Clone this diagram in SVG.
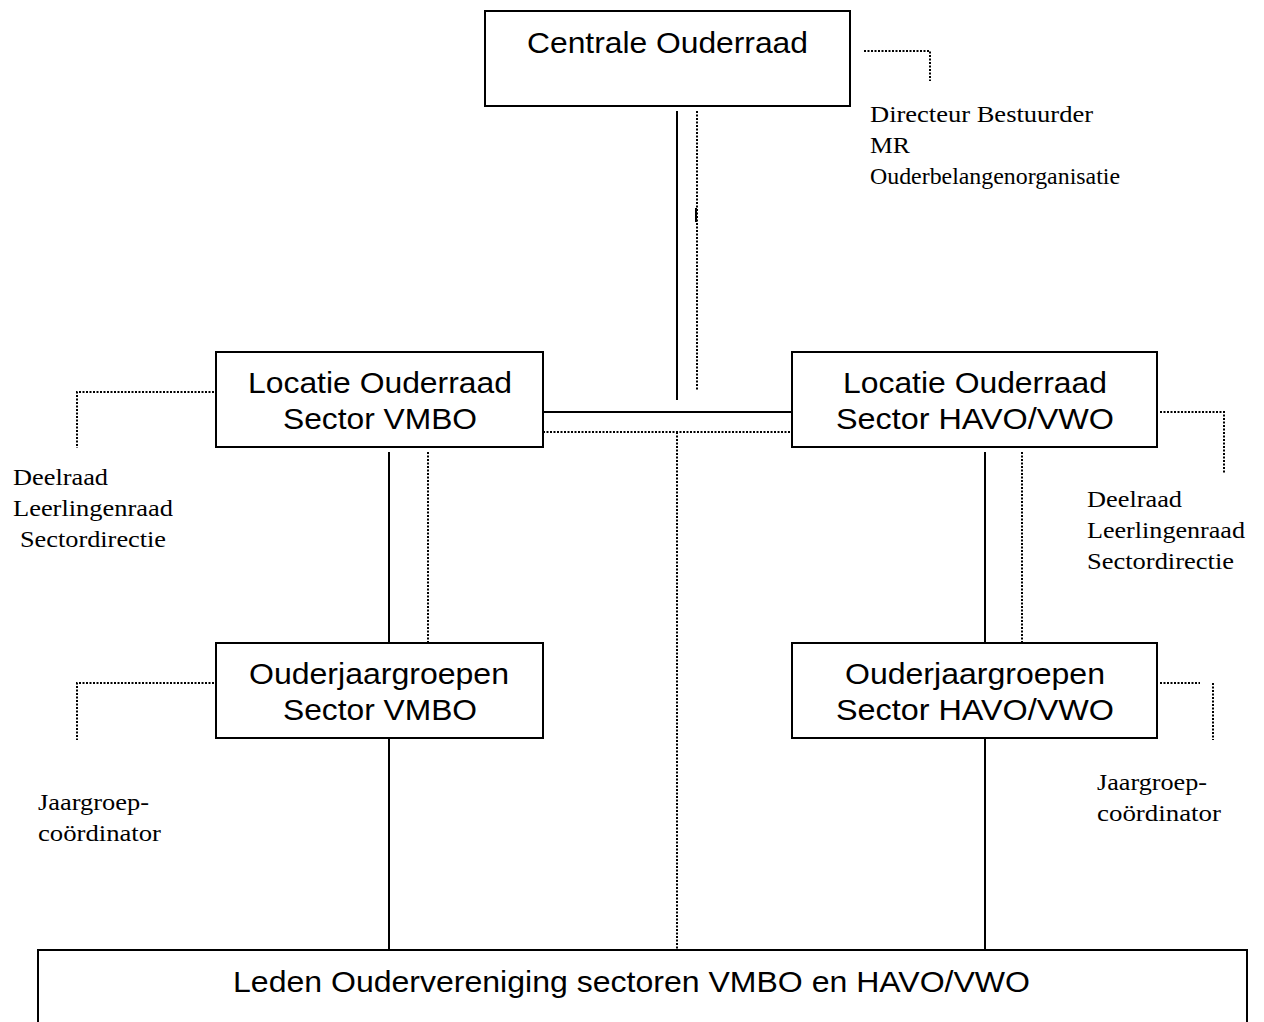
<svg xmlns="http://www.w3.org/2000/svg" width="1264" height="1022" viewBox="0 0 1264 1022">
<style>
.box{fill:#fff;stroke:#000;stroke-width:2}
.t{font-family:"Liberation Sans",Arial,sans-serif;font-size:29px;fill:#000;text-anchor:middle}
.s{font-family:"Liberation Serif","Times New Roman",serif;font-size:24px;fill:#000}
.solid{stroke:#000;stroke-width:2;fill:none}
.dot{stroke:#000;stroke-width:2;stroke-dasharray:2 1.5;fill:none}
</style>
<rect width="1264" height="1022" fill="#fff"/>
<g id="connectors">
<line class="solid" x1="677" y1="111" x2="677" y2="400"/>
<line class="dot" x1="697" y1="111" x2="697" y2="390"/>
<line class="solid" x1="696" y1="208" x2="696" y2="222"/>
<line class="solid" x1="543" y1="412" x2="792" y2="412"/>
<line class="dot" x1="543" y1="432" x2="792" y2="432"/>
<line class="dot" x1="677" y1="432" x2="677" y2="950"/>
<polyline class="dot" points="864,51 930,51 930,81"/>
<polyline class="dot" points="214,392 77,392 77,448"/>
<polyline class="dot" points="1160,412 1224,412 1224,473"/>
<polyline class="dot" points="214,683 77,683 77,740"/>
<polyline class="dot" points="1160,683 1200,683"/>
<line class="dot" x1="1213" y1="683" x2="1213" y2="740"/>
<line class="solid" x1="389" y1="452" x2="389" y2="643"/>
<line class="dot" x1="428" y1="452" x2="428" y2="642"/>
<line class="solid" x1="985" y1="452" x2="985" y2="643"/>
<line class="dot" x1="1022" y1="452" x2="1022" y2="642"/>
<line class="solid" x1="389" y1="738" x2="389" y2="950"/>
<line class="solid" x1="985" y1="738" x2="985" y2="950"/>
</g>
<g id="centrale">
<rect class="box" x="485" y="11" width="365" height="95"/>
<text class="t" x="667.5" y="53" textLength="281" lengthAdjust="spacingAndGlyphs">Centrale Ouderraad</text>
</g>
<g id="centrale-note">
<text class="s" x="870" y="122" textLength="223" lengthAdjust="spacingAndGlyphs">Directeur Bestuurder</text>
<text class="s" x="870" y="153" textLength="40" lengthAdjust="spacingAndGlyphs">MR</text>
<text class="s" x="870" y="184" textLength="250" lengthAdjust="spacingAndGlyphs">Ouderbelangenorganisatie</text>
</g>
<g id="locatie-vmbo">
<rect class="box" x="216" y="352" width="327" height="95"/>
<text class="t" x="380" y="393" textLength="264" lengthAdjust="spacingAndGlyphs">Locatie Ouderraad</text>
<text class="t" x="380" y="429" textLength="194" lengthAdjust="spacingAndGlyphs">Sector VMBO</text>
</g>
<g id="locatie-havo">
<rect class="box" x="792" y="352" width="365" height="95"/>
<text class="t" x="975" y="393" textLength="264" lengthAdjust="spacingAndGlyphs">Locatie Ouderraad</text>
<text class="t" x="975" y="429" textLength="278" lengthAdjust="spacingAndGlyphs">Sector HAVO/VWO</text>
</g>
<g id="note-vmbo">
<text class="s" x="13" y="485" textLength="95" lengthAdjust="spacingAndGlyphs">Deelraad</text>
<text class="s" x="13" y="516" textLength="160" lengthAdjust="spacingAndGlyphs">Leerlingenraad</text>
<text class="s" x="20" y="547" textLength="146" lengthAdjust="spacingAndGlyphs">Sectordirectie</text>
</g>
<g id="note-havo">
<text class="s" x="1087" y="507" textLength="95" lengthAdjust="spacingAndGlyphs">Deelraad</text>
<text class="s" x="1087" y="538" textLength="158" lengthAdjust="spacingAndGlyphs">Leerlingenraad</text>
<text class="s" x="1087" y="569" textLength="147" lengthAdjust="spacingAndGlyphs">Sectordirectie</text>
</g>
<g id="jaar-vmbo">
<rect class="box" x="216" y="643" width="327" height="95"/>
<text class="t" x="379" y="684" textLength="260" lengthAdjust="spacingAndGlyphs">Ouderjaargroepen</text>
<text class="t" x="380" y="720" textLength="194" lengthAdjust="spacingAndGlyphs">Sector VMBO</text>
</g>
<g id="jaar-havo">
<rect class="box" x="792" y="643" width="365" height="95"/>
<text class="t" x="975" y="684" textLength="260" lengthAdjust="spacingAndGlyphs">Ouderjaargroepen</text>
<text class="t" x="975" y="720" textLength="278" lengthAdjust="spacingAndGlyphs">Sector HAVO/VWO</text>
</g>
<g id="note-jaar-vmbo">
<text class="s" x="38" y="810" textLength="111" lengthAdjust="spacingAndGlyphs">Jaargroep-</text>
<text class="s" x="38" y="841" textLength="123" lengthAdjust="spacingAndGlyphs">coördinator</text>
</g>
<g id="note-jaar-havo">
<text class="s" x="1097" y="790" textLength="110" lengthAdjust="spacingAndGlyphs">Jaargroep-</text>
<text class="s" x="1097" y="821" textLength="124" lengthAdjust="spacingAndGlyphs">coördinator</text>
</g>
<g id="leden">
<rect class="box" x="38" y="950" width="1209" height="90"/>
<text class="t" x="631.5" y="992" textLength="797" lengthAdjust="spacingAndGlyphs">Leden Oudervereniging sectoren VMBO en HAVO/VWO</text>
</g>
</svg>
